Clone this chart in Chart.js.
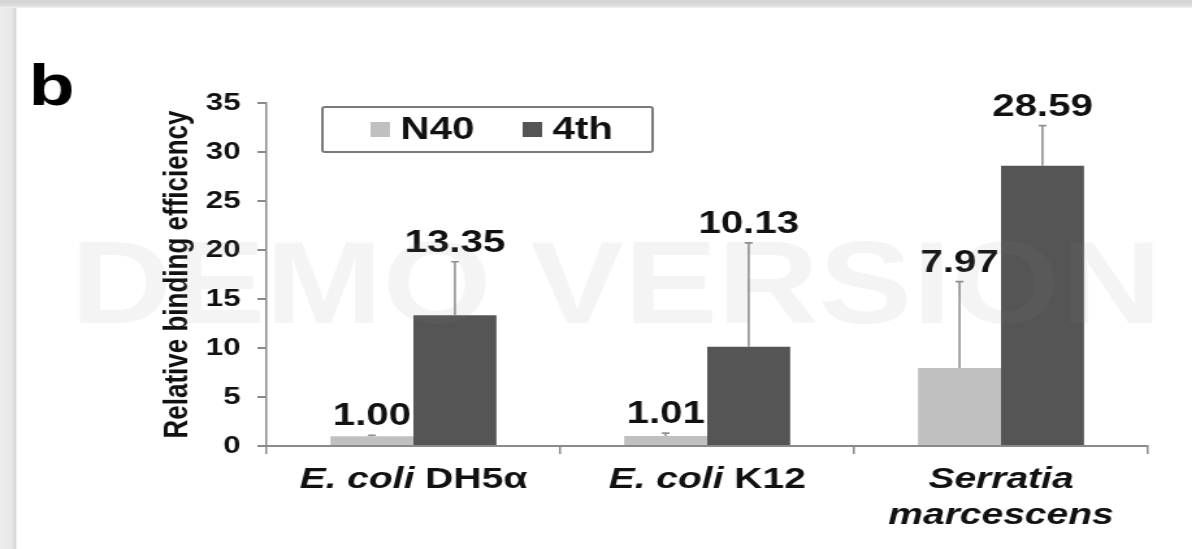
<!DOCTYPE html>
<html>
<head>
<meta charset="utf-8">
<script src="https://cdn.jsdelivr.net/npm/chart.js@4.4.0/dist/chart.umd.min.js"></script>
<style>
  html, body { margin: 0; padding: 0; background: #fff; width: 1192px; height: 549px; overflow: hidden; }
  .edge-left { position: absolute; left: 0; top: 0; width: 17px; height: 549px;
    background: linear-gradient(to right, #eeeeee, #e8e8e8 65%, #d8d8d8 92%, #fff); }
  .edge-top { position: absolute; left: 0; top: 0; width: 1192px; height: 8px;
    background: linear-gradient(to bottom, #d3d3d3, #dcdcdc 70%, #f4f4f4); }
  /* the picture is stretched sideways, so the chart is drawn narrow and scaled */
  #wrap { position: absolute; left: 0; top: 0; width: 917px; height: 549px;
    transform: scaleX(1.3); transform-origin: 0 0; }
</style>
</head>
<body>
<div class="edge-left"></div>
<div class="edge-top"></div>
<div id="wrap"><canvas id="chart" width="917" height="549"></canvas></div>
<script>
// данные
const species = ['E. coli', 'E. coli', 'Serratia marcescens'];
const strains = ['DH5α', 'K12', ''];
const categories = species.map((s, i) => (strains[i] ? s + ' ' + strains[i] : s));
const seriesNames = ['N40', '4th'];
const n40Values = [1.00, 1.01, 7.97];
const fourthValues = [13.35, 10.13, 28.59];
const n40Errors = [0.1, 0.3, 8.8];
const fourthErrors = [5.45, 10.6, 4.1];
const yMax = 35;
const yStep = 5;

const axisColor = '#8a8a8a';
const textColor = '#111';

// планки погрешностей
const errorBarPlugin = {
  id: 'errorBars',
  afterDatasetsDraw(chart) {
    const ctx = chart.ctx;
    const y = chart.scales.y;
    chart.data.datasets.forEach((ds, di) => {
      chart.getDatasetMeta(di).data.forEach((bar, i) => {
        const top = y.getPixelForValue(ds.data[i] + ds.errors[i]);
        ctx.save();
        ctx.strokeStyle = '#909090';
        ctx.lineWidth = 1.6;
        ctx.beginPath();
        ctx.moveTo(bar.x, bar.y);
        ctx.lineTo(bar.x, top);
        ctx.moveTo(bar.x - 3, top);
        ctx.lineTo(bar.x + 3, top);
        ctx.stroke();
        ctx.restore();
      });
    });
  }
};

// подписи значений над столбцами
const valueLabelPlugin = {
  id: 'valueLabels',
  afterDatasetsDraw(chart) {
    const ctx = chart.ctx;
    const y = chart.scales.y;
    ctx.save();
    ctx.font = 'bold 31px Arial';
    ctx.fillStyle = textColor;
    ctx.textAlign = 'center';
    ctx.textBaseline = 'alphabetic';
    chart.data.datasets.forEach((ds, di) => {
      chart.getDatasetMeta(di).data.forEach((bar, i) => {
        const top = y.getPixelForValue(ds.data[i] + ds.errors[i]);
        ctx.fillText(ds.data[i].toFixed(2), bar.x, top - 10);
      });
    });
    ctx.restore();
  }
};

// подписи категорий: название вида курсивом
const categoryLabelPlugin = {
  id: 'categoryLabels',
  afterDraw(chart) {
    const ctx = chart.ctx;
    const x = chart.scales.x;
    const base = chart.chartArea.bottom + 42;
    const italic = 'bold italic 30px Arial';
    const plain = 'bold 30px Arial';
    ctx.save();
    ctx.fillStyle = textColor;
    ctx.textBaseline = 'alphabetic';
    ctx.textAlign = 'left';
    species.forEach((sp, i) => {
      const cx = x.getPixelForValue(i);
      if (strains[i]) {
        ctx.font = italic;
        const w1 = ctx.measureText(sp + ' ').width;
        ctx.font = plain;
        const w2 = ctx.measureText(strains[i]).width;
        let sx = cx - (w1 + w2) / 2;
        ctx.font = italic;
        ctx.fillText(sp + ' ', sx, base);
        ctx.font = plain;
        ctx.fillText(strains[i], sx + w1, base);
      } else {
        ctx.font = italic;
        ctx.textAlign = 'center';
        sp.split(' ').forEach((part, k) => {
          ctx.fillText(part, cx, base + k * 36);
        });
        ctx.textAlign = 'left';
      }
    });
    ctx.restore();
  }
};

// легенда в рамке, буква панели и водяной знак
const decorPlugin = {
  id: 'decor',
  afterDraw(chart) {
    const ctx = chart.ctx;
    ctx.save();
    // легенда
    ctx.strokeStyle = '#7a7a7a';
    ctx.lineWidth = 2;
    ctx.beginPath();
    ctx.roundRect(248, 107, 254, 45, 2);
    ctx.stroke();
    const boxX = [285, 402];
    ctx.font = 'bold 31px Arial';
    ctx.textBaseline = 'middle';
    chart.data.datasets.forEach((ds, di) => {
      ctx.fillStyle = ds.backgroundColor;
      ctx.fillRect(boxX[di], 122, 15, 15);
      ctx.fillStyle = textColor;
      ctx.fillText(ds.label, boxX[di] + 23, 130);
    });
    // буква панели
    ctx.font = 'bold 58px Arial';
    ctx.textBaseline = 'alphabetic';
    ctx.fillStyle = '#000';
    ctx.fillText('b', 22, 105);
    // водяной знак
    ctx.translate(474, 323);
    ctx.scale(0.93, 1);
    ctx.font = 'bold 116px Arial';
    ctx.textAlign = 'center';
    ctx.fillStyle = 'rgba(128,128,128,0.09)';
    ctx.fillText('DEMO VERSION', 0, 0);
    ctx.restore();
  }
};

new Chart(document.getElementById('chart').getContext('2d'), {
  type: 'bar',
  data: {
    labels: categories,
    datasets: [
      {
        label: seriesNames[0],
        data: n40Values,
        errors: n40Errors,
        backgroundColor: '#c0c0c0',
        categoryPercentage: 0.565,
        barPercentage: 1.0,
      },
      {
        label: seriesNames[1],
        data: fourthValues,
        errors: fourthErrors,
        backgroundColor: '#555555',
        categoryPercentage: 0.565,
        barPercentage: 1.0,
      },
    ],
  },
  options: {
    responsive: false,
    animation: false,
    devicePixelRatio: 1,
    layout: { padding: { left: 121, right: 34, top: 103, bottom: 0 } },
    plugins: { legend: { display: false }, tooltip: { enabled: false } },
    scales: {
      x: {
        ticks: { display: false },
        grid: { drawOnChartArea: false, drawTicks: true, tickLength: 8, color: axisColor, lineWidth: 1.5 },
        border: { color: axisColor, width: 2 },
        afterFit(scale) { scale.height = 103; },
      },
      y: {
        min: 0,
        max: yMax,
        ticks: { stepSize: yStep, padding: 13, color: textColor, font: { family: 'Arial', size: 24, weight: 'bold' } },
        grid: { drawOnChartArea: false, drawTicks: true, tickLength: 7, color: axisColor, lineWidth: 2 },
        border: { color: axisColor, width: 1.5 },
        title: {
          display: true,
          text: 'Relative binding efficiency',
          color: textColor,
          padding: 0,
          font: { family: 'Arial', size: 26, weight: 'bold' },
        },
        afterFit(scale) { scale.width = 84; },
      },
    },
  },
  plugins: [errorBarPlugin, valueLabelPlugin, categoryLabelPlugin, decorPlugin],
});
</script>
</body>
</html>
